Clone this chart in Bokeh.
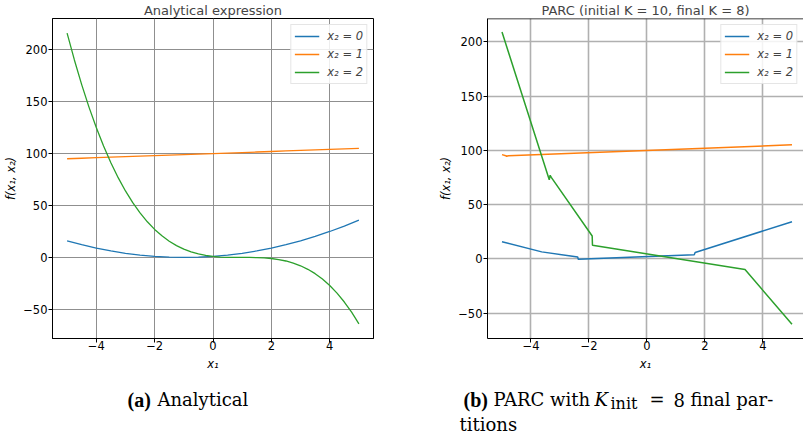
from bokeh.plotting import figure
from bokeh.layouts import column, row
from bokeh.models import Range1d, FixedTicker, Legend, LegendItem, Span
from bokeh.core.properties import value
from bokeh.embed import file_html
from bokeh.resources import INLINE

# ---------------- data: panel (a) analytical expression ----------------
x1_a = [-5.0, -4.5, -4.0, -3.5, -3.0, -2.5, -2.0, -1.5, -1.0, -0.5, 0.0,
        0.5, 1.0, 1.5, 2.0, 2.5, 3.0, 3.5, 4.0, 4.5, 5.0]
fa_x2_0 = [16.0, 12.25, 9.0, 6.25, 4.0, 2.25, 1.0, 0.25, 0.0, 0.25, 1.0,
           2.25, 4.0, 6.25, 9.0, 12.25, 16.0, 20.25, 25.0, 30.25, 36.0]
fa_x2_1 = [95.0, 95.5, 96.0, 96.5, 97.0, 97.5, 98.0, 98.5, 99.0, 99.5, 100.0,
           100.5, 101.0, 101.5, 102.0, 102.5, 103.0, 103.5, 104.0, 104.5, 105.0]
x1_a_fine = [-5.0, -4.75, -4.5, -4.25, -4.0, -3.75, -3.5, -3.25, -3.0, -2.75,
             -2.5, -2.25, -2.0, -1.75, -1.5, -1.25, -1.0, -0.75, -0.5, -0.25,
             0.0, 0.25, 0.5, 0.75, 1.0, 1.25, 1.5, 1.75, 2.0, 2.25, 2.5, 2.75,
             3.0, 3.25, 3.5, 3.75, 4.0, 4.25, 4.5, 4.75, 5.0]
fa_x2_2 = [216.0, 190.1, 166.4, 144.7, 125.0, 107.2, 91.1, 76.8, 64.0, 52.7,
           42.9, 34.3, 27.0, 20.8, 15.6, 11.4, 8.0, 5.4, 3.4, 2.0,
           1.0, 0.4, 0.1, 0.0, 0.0, 0.0, -0.1, -0.4, -1.0, -2.0, -3.4, -5.4,
           -8.0, -11.4, -15.6, -20.8, -27.0, -34.3, -42.9, -52.7, -64.0]

# ---------------- data: panel (b) PARC ----------------
x1_b_0 = [-5.0, -3.63, -2.39, -2.37, 1.63, 1.66, 5.0]
fb_x2_0 = [15.7, 6.4, 1.7, -0.4, 3.8, 5.8, 34.2]
x1_b_1 = [-5.0, -4.87, -4.84, -4.78, 5.0]
fb_x2_1 = [96.0, 95.0, 94.5, 95.0, 105.0]
x1_b_2 = [-5.0, -3.37, -3.34, -3.30, -1.89, -1.88, 3.38, 5.0]
fb_x2_2 = [208.9, 72.8, 77.0, 75.0, 21.0, 12.5, -9.8, -60.3]

series_labels = ["x\u2082 = 0", "x\u2082 = 1", "x\u2082 = 2"]
series_colors = ["#1f77b4", "#ff7f0e", "#2ca02c"]

x_ticks = [-4, -2, 0, 2, 4]
y_ticks = [-50, 0, 50, 100, 150, 200]
titles = ["Analytical expression", "PARC (initial K = 10, final K = 8)"]

FONT = "DejaVu Sans"


def style(p, grid_color, grid_width):
    for ax in (p.xaxis[0], p.yaxis[0]):
        ax.axis_line_color = "black"
        ax.major_tick_line_color = "black"
        ax.major_tick_out = 4
        ax.major_tick_in = 0
        ax.minor_tick_out = 0
        ax.minor_tick_in = 0
        ax.major_label_text_font = FONT
        ax.major_label_text_font_size = "11.5px"
        ax.major_label_text_color = "black"
        ax.axis_label_text_font = FONT
        ax.axis_label_text_font_size = "11.5px"
        ax.axis_label_text_font_style = "italic"
        ax.axis_label_text_color = "black"
    p.xaxis.ticker = FixedTicker(ticks=x_ticks)
    p.yaxis.ticker = FixedTicker(ticks=y_ticks)
    p.xaxis.major_label_overrides = {t: ("\u2212" + str(abs(t)) if t < 0 else str(t)) for t in x_ticks}
    p.yaxis.major_label_overrides = {t: ("\u2212" + str(abs(t)) if t < 0 else str(t)) for t in y_ticks}
    p.xaxis.major_label_standoff = -2
    p.yaxis.major_label_standoff = 1
    p.xaxis.axis_label_standoff = 4
    p.yaxis.axis_label_standoff = 2
    p.xaxis.axis_label = "x\u2081"
    p.yaxis.axis_label = "f(x\u2081, x\u2082)"
    p.xgrid.grid_line_color = grid_color
    p.ygrid.grid_line_color = grid_color
    p.xgrid.grid_line_width = grid_width
    p.ygrid.grid_line_width = grid_width
    p.title.text_font = FONT
    p.title.text_font_size = "13px"
    p.title.text_font_style = "normal"
    p.title.align = "center"
    p.title.standoff = 1
    p.background_fill_color = "white"
    p.border_fill_color = "white"


def add_legend(p, renderers):
    items = [LegendItem(label=l, renderers=[r]) for l, r in zip(series_labels, renderers)]
    leg = Legend(items=items, location="top_right")
    leg.label_text_font = FONT
    leg.label_text_font_size = "11.5px"
    leg.label_text_font_style = "italic"
    leg.glyph_width = 25
    leg.glyph_height = 16
    leg.label_height = 16
    leg.label_standoff = 8
    leg.padding = 3
    leg.spacing = 2
    leg.margin = 6
    leg.border_line_color = "#cccccc"
    leg.border_line_width = 1
    leg.background_fill_alpha = 0.85
    p.add_layout(leg)


# ---------------- panel (a) ----------------
p1 = figure(width=400, height=378, output_backend="svg", toolbar_location=None,
            x_range=Range1d(-5.5, 5.5), y_range=Range1d(-78, 230),
            title=titles[0], min_border_left=52, min_border_right=27,
            min_border_top=0, min_border_bottom=40)
style(p1, "#8f8f8f", 1)
p1.outline_line_color = "black"
p1.outline_line_width = 1
ra = [p1.line(x1_a, fa_x2_0, line_color=series_colors[0], line_width=1.3),
      p1.line(x1_a, fa_x2_1, line_color=series_colors[1], line_width=1.3),
      p1.line(x1_a_fine, fa_x2_2, line_color=series_colors[2], line_width=1.3)]
add_legend(p1, ra)

# ---------------- panel (b) ----------------
p2 = figure(width=403, height=378, output_backend="svg", toolbar_location=None,
            x_range=Range1d(-5.5, 5.397), y_range=Range1d(-73.4, 221.4),
            title=titles[1], min_border_left=87, min_border_right=0,
            min_border_top=0, min_border_bottom=40)
style(p2, "#b0b0b0", 1.6)
p2.outline_line_color = None
p2.add_layout(Span(location=221.4, dimension="width", line_color="black", line_width=1.5))
rb = [p2.line(x1_b_0, fb_x2_0, line_color=series_colors[0], line_width=1.5),
      p2.line(x1_b_1, fb_x2_1, line_color=series_colors[1], line_width=1.5),
      p2.line(x1_b_2, fb_x2_2, line_color=series_colors[2], line_width=1.5)]
add_legend(p2, rb)

# ---------------- captions ----------------
p3 = figure(width=803, height=59, output_backend="svg", toolbar_location=None,
            x_range=Range1d(0, 803), y_range=Range1d(437, 378),
            x_axis_location=None, y_axis_location=None, min_border=0)
p3.outline_line_color = None
p3.xgrid.visible = False
p3.ygrid.visible = False
p3.background_fill_color = "white"
p3.border_fill_color = "white"

SERIF = "DejaVu Serif"
Y1, Y2 = 399, 424
p3.text(x=[127, 463], y=[Y1, Y1], text=["(a)", "(b)"],
        text_font=value("Liberation Serif"), text_font_size=value("20px"),
        text_font_style="bold", text_baseline="alphabetic", text_align="left", text_color="black")
p3.text(x=[157, 493, 649, 673, 690, 459], y=[Y1, Y1, Y1, Y1, Y1, Y2],
        text=["Analytical", "PARC with", "=", "8", "final par-", "titions"],
        text_font=value(SERIF), text_font_size=value("18px"),
        text_baseline="alphabetic", text_align="left", text_color="black")
p3.text(x=[594], y=[Y1], text=["K"],
        text_font=value(SERIF), text_font_size=value("18px"), text_font_style="italic",
        text_baseline="alphabetic", text_align="left", text_color="black")
p3.text(x=[610], y=[Y1 + 4], text=["init"],
        text_font=value(SERIF), text_font_size=value("16px"),
        text_baseline="alphabetic", text_align="left", text_color="black")

layout = column(row(p1, p2), p3)
open("out.html", "w").write(file_html(layout, INLINE))
